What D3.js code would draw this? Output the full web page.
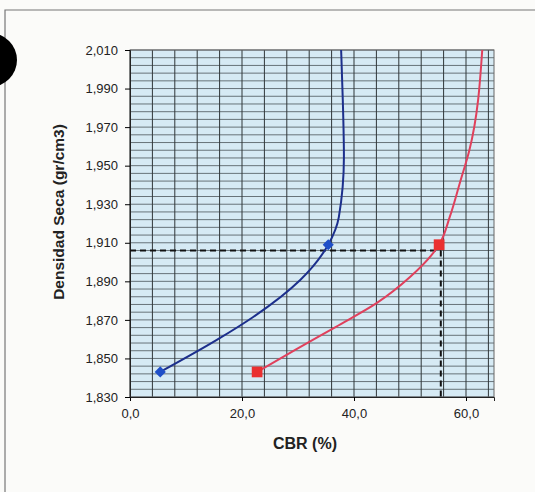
<!DOCTYPE html>
<html>
<head>
<meta charset="utf-8">
<script src="https://cdn.jsdelivr.net/npm/d3@7"></script>
<style>
  body { margin: 0; background: #fbfbf9; }
  svg { display: block; }
  text { font-family: "Liberation Sans", Arial, sans-serif; fill: #222; }
</style>
</head>
<body>
<svg width="535" height="492"></svg>
<script>
var width = 535, height = 492;

// measured points (markers)
var blueCBR = [5.4, 35.4];
var blueDens = [1.843, 1.909];
var redCBR = [22.7, 55.2];
var redDens = [1.843, 1.909];

// traced smooth curves
var blueLineCBR = [5.4, 15.5, 22.0, 30.4, 35.4, 37.3, 38.2, 38.0, 37.7];
var blueLineDens = [1.843, 1.8596, 1.8715, 1.8907, 1.909, 1.9234, 1.9545, 1.984, 2.010];
var redLineCBR = [22.7, 29.5, 36.7, 44.1, 50.0, 55.2, 57.1, 58.9, 60.6, 62.9];
var redLineDens = [1.843, 1.8544, 1.8663, 1.8788, 1.8922, 1.909, 1.9234, 1.941, 1.958, 2.010];

// reference lines (dashed)
var refCBR = 55.5;
var refDens = 1.906;

var xTicks = [0, 20, 40, 60];
var yTicks = [1.83, 1.85, 1.87, 1.89, 1.91, 1.93, 1.95, 1.97, 1.99, 2.01];

var svg = d3.select('svg');

// page frame + punch hole
svg.append('path')
  .attr('d', 'M5,492 L5,10 L535,10')
  .attr('fill', 'none')
  .attr('stroke', '#777')
  .attr('stroke-width', 1.2);
svg.append('circle')
  .attr('cx', -10).attr('cy', 60).attr('r', 27)
  .attr('fill', '#000');

var pLeft = 130, pRight = 494, pTop = 50, pBottom = 397;

var x = d3.scaleLinear().domain([0, 65]).range([pLeft, pRight]);
var y = d3.scaleLinear().domain([1.83, 2.01]).range([pBottom, pTop]);

var fmt = function(d) { return d3.format('.1f')(d).replace('.', ','); };
var fmtY = function(d) { return d3.format('.3f')(d).replace('.', ','); };

// plot background
svg.append('rect')
  .attr('x', pLeft).attr('y', pTop)
  .attr('width', pRight - pLeft).attr('height', pBottom - pTop)
  .attr('fill', '#d6eaf4');

// grid
var g = svg.append('g');
g.selectAll('.hgrid')
  .data(d3.range(0, 46).map(function(i) { return 1.83 + i * 0.004; }))
  .enter().append('line')
  .attr('class', 'hgrid')
  .attr('x1', pLeft).attr('x2', pRight)
  .attr('y1', function(d) { return y(d); })
  .attr('y2', function(d) { return y(d); })
  .attr('stroke', '#3c4448')
  .attr('stroke-width', 0.9)
  .attr('stroke-opacity', 0.8);
g.selectAll('.vgrid')
  .data(d3.range(0, 17).map(function(i) { return i * 4; }))
  .enter().append('line')
  .attr('class', 'vgrid')
  .attr('y1', pTop).attr('y2', pBottom)
  .attr('x1', function(d) { return x(d); })
  .attr('x2', function(d) { return x(d); })
  .attr('stroke', '#2f3638')
  .attr('stroke-width', 1);

svg.append('rect')
  .attr('x', pLeft).attr('y', pTop)
  .attr('width', pRight - pLeft).attr('height', pBottom - pTop)
  .attr('fill', 'none')
  .attr('stroke', '#666')
  .attr('stroke-width', 1);

// axes
var xAxis = svg.append('g')
  .attr('transform', 'translate(0,' + pBottom + ')')
  .call(d3.axisBottom(x).tickValues(xTicks).tickFormat(fmt).tickSize(4));
xAxis.select('.domain').attr('stroke', '#222');
xAxis.selectAll('text').attr('font-size', 13).attr('dy', '1.05em').attr('fill', '#222');

var yAxis = svg.append('g')
  .attr('transform', 'translate(' + pLeft + ',0)')
  .call(d3.axisLeft(y).tickValues(yTicks).tickFormat(fmtY).tickSize(5));
yAxis.select('.domain').attr('stroke', '#222');
yAxis.selectAll('text').attr('font-size', 13).attr('x', -12).attr('fill', '#222');

// axis titles
svg.append('text')
  .attr('transform', 'translate(64,212) rotate(-90)')
  .attr('text-anchor', 'middle')
  .attr('font-size', 15.5)
  .attr('font-weight', 'bold')
  .text('Densidad Seca (gr/cm3)');
svg.append('text')
  .attr('x', 305).attr('y', 449)
  .attr('text-anchor', 'middle')
  .attr('font-size', 16)
  .attr('font-weight', 'bold')
  .text('CBR (%)');

// dashed reference lines
svg.append('line')
  .attr('x1', x(0)).attr('x2', x(refCBR))
  .attr('y1', y(refDens)).attr('y2', y(refDens))
  .attr('stroke', '#111').attr('stroke-width', 1.8)
  .attr('stroke-dasharray', '6,4');
svg.append('line')
  .attr('x1', x(refCBR)).attr('x2', x(refCBR))
  .attr('y1', y(refDens)).attr('y2', y(1.83))
  .attr('stroke', '#111').attr('stroke-width', 2)
  .attr('stroke-dasharray', '6,4');

// curves (density rises monotonically, so smooth along y)
var line = d3.line()
  .x(function(d) { return x(d[0]); })
  .y(function(d) { return y(d[1]); })
  .curve(d3.curveMonotoneY);

svg.append('path')
  .datum(d3.zip(blueLineCBR, blueLineDens))
  .attr('d', line)
  .attr('fill', 'none')
  .attr('stroke', '#1c2f8c')
  .attr('stroke-width', 2);

svg.append('path')
  .datum(d3.zip(redLineCBR, redLineDens))
  .attr('d', line)
  .attr('fill', 'none')
  .attr('stroke', '#e0405c')
  .attr('stroke-width', 2);

// markers
svg.selectAll('.bpt')
  .data(d3.zip(blueCBR, blueDens))
  .enter().append('path')
  .attr('class', 'bpt')
  .attr('d', d3.symbol().type(d3.symbolSquare).size(62))
  .attr('transform', function(d) { return 'translate(' + x(d[0]) + ',' + y(d[1]) + ') rotate(45)'; })
  .attr('fill', '#1f4fc8');

svg.selectAll('.rpt')
  .data(d3.zip(redCBR, redDens))
  .enter().append('path')
  .attr('class', 'rpt')
  .attr('d', d3.symbol().type(d3.symbolSquare).size(115))
  .attr('transform', function(d) { return 'translate(' + x(d[0]) + ',' + y(d[1]) + ')'; })
  .attr('fill', '#ea3030');
</script>
</body>
</html>
